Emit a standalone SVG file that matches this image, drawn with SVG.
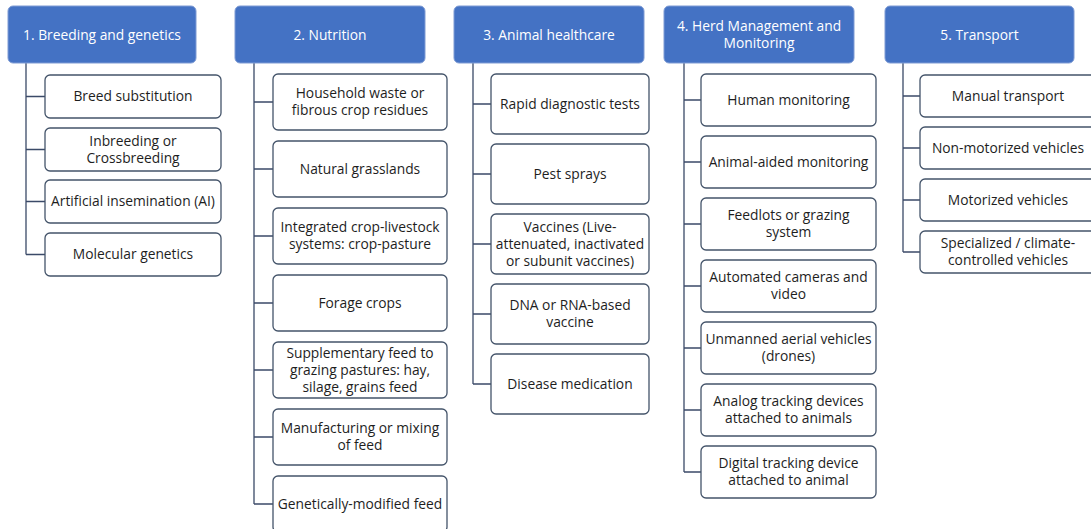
<svg xmlns="http://www.w3.org/2000/svg" width="1091" height="529" viewBox="0 0 1091 529">
  <style>
    .bg { fill: #ffffff; }
    .hdr rect { fill: #4472C4; stroke: #7E9BD4; stroke-width: 1; }
    .hdr text { fill: #ffffff; font-family: "Open Sans", "Noto Sans", sans-serif; font-size: 13.8px; text-anchor: middle; }
    .item rect { fill: #ffffff; stroke: #44546A; stroke-width: 1.3; }
    .item text { fill: #1e1e1e; font-family: "Open Sans", "Noto Sans", sans-serif; font-size: 13.8px; text-anchor: middle; }
    .links path { fill: none; stroke: #3B4A68; stroke-width: 1.3; }
  </style>
  <rect class="bg" x="0" y="0" width="1091" height="529"/>

  <!-- connectors: one trunk per category, one branch per item -->
  <g class="links" id="connectors">
    <path d="M26 63V254.5 M26 96.5H45 M26 149.5H45 M26 201.5H45 M26 254.5H45"/>
    <path d="M254 63V504 M254 102H273 M254 169H273 M254 236H273 M254 303H273 M254 370H273 M254 437H273 M254 504H273"/>
    <path d="M473 63V384 M473 104H491 M473 174H491 M473 244H491 M473 314H491 M473 384H491"/>
    <path d="M684 63V472 M684 100H701 M684 162H701 M684 224H701 M684 286H701 M684 348H701 M684 410H701 M684 472H701"/>
    <path d="M903 63V252 M903 96H920 M903 148H920 M903 200H920 M903 252H920"/>
  </g>

  <!-- 1. Breeding and genetics -->
  <g class="hdr" id="h1"><rect x="8" y="6" width="188" height="57" rx="5"/><text x="102" y="39.5">1. Breeding and genetics</text></g>
  <g class="item" id="n1a"><rect x="45" y="75" width="176" height="43" rx="5"/><text x="133" y="101">Breed substitution</text></g>
  <g class="item" id="n1b"><rect x="45" y="128" width="176" height="43" rx="5"/><text x="133" y="145.5">Inbreeding or</text><text x="133" y="162.5">Crossbreeding</text></g>
  <g class="item" id="n1c"><rect x="45" y="180" width="176" height="43" rx="5"/><text x="133" y="206">Artificial insemination (AI)</text></g>
  <g class="item" id="n1d"><rect x="45" y="233" width="176" height="43" rx="5"/><text x="133" y="259">Molecular genetics</text></g>

  <!-- 2. Nutrition -->
  <g class="hdr" id="h2"><rect x="235" y="6" width="190" height="57" rx="5"/><text x="330" y="39.5">2. Nutrition</text></g>
  <g class="item" id="n2a"><rect x="273" y="74" width="174" height="56" rx="5"/><text x="360" y="98">Household waste or</text><text x="360" y="115">fibrous crop residues</text></g>
  <g class="item" id="n2b"><rect x="273" y="141" width="174" height="56" rx="5"/><text x="360" y="173.5">Natural grasslands</text></g>
  <g class="item" id="n2c"><rect x="273" y="208" width="174" height="56" rx="5"/><text x="360" y="232">Integrated crop-livestock</text><text x="360" y="249">systems: crop-pasture</text></g>
  <g class="item" id="n2d"><rect x="273" y="275" width="174" height="56" rx="5"/><text x="360" y="307.5">Forage crops</text></g>
  <g class="item" id="n2e"><rect x="273" y="342" width="174" height="56" rx="5"/><text x="360" y="357.5">Supplementary feed to</text><text x="360" y="374.5">grazing pastures: hay,</text><text x="360" y="391.5">silage, grains feed</text></g>
  <g class="item" id="n2f"><rect x="273" y="409" width="174" height="56" rx="5"/><text x="360" y="433">Manufacturing or mixing</text><text x="360" y="450">of feed</text></g>
  <g class="item" id="n2g"><rect x="273" y="476" width="174" height="56" rx="5"/><text x="360" y="508.5">Genetically-modified feed</text></g>

  <!-- 3. Animal healthcare -->
  <g class="hdr" id="h3"><rect x="454" y="6" width="190" height="57" rx="5"/><text x="549" y="39.5">3. Animal healthcare</text></g>
  <g class="item" id="n3a"><rect x="491" y="74" width="158" height="60" rx="5"/><text x="570" y="108.5">Rapid diagnostic tests</text></g>
  <g class="item" id="n3b"><rect x="491" y="144" width="158" height="60" rx="5"/><text x="570" y="178.5">Pest sprays</text></g>
  <g class="item" id="n3c"><rect x="491" y="214" width="158" height="60" rx="5"/><text x="570" y="231.5">Vaccines (Live-</text><text x="570" y="248.5">attenuated, inactivated</text><text x="570" y="265.5">or subunit vaccines)</text></g>
  <g class="item" id="n3d"><rect x="491" y="284" width="158" height="60" rx="5"/><text x="570" y="310">DNA or RNA-based</text><text x="570" y="327">vaccine</text></g>
  <g class="item" id="n3e"><rect x="491" y="354" width="158" height="60" rx="5"/><text x="570" y="388.5">Disease medication</text></g>

  <!-- 4. Herd Management and Monitoring -->
  <g class="hdr" id="h4"><rect x="664" y="6" width="190" height="57" rx="5"/><text x="759" y="31">4. Herd Management and</text><text x="759" y="48">Monitoring</text></g>
  <g class="item" id="n4a"><rect x="701" y="74" width="175" height="52" rx="5"/><text x="788.5" y="104.5">Human monitoring</text></g>
  <g class="item" id="n4b"><rect x="701" y="136" width="175" height="52" rx="5"/><text x="788.5" y="166.5">Animal-aided monitoring</text></g>
  <g class="item" id="n4c"><rect x="701" y="198" width="175" height="52" rx="5"/><text x="788.5" y="220">Feedlots or grazing</text><text x="788.5" y="237">system</text></g>
  <g class="item" id="n4d"><rect x="701" y="260" width="175" height="52" rx="5"/><text x="788.5" y="282">Automated cameras and</text><text x="788.5" y="299">video</text></g>
  <g class="item" id="n4e"><rect x="701" y="322" width="175" height="52" rx="5"/><text x="788.5" y="344">Unmanned aerial vehicles</text><text x="788.5" y="361">(drones)</text></g>
  <g class="item" id="n4f"><rect x="701" y="384" width="175" height="52" rx="5"/><text x="788.5" y="406">Analog tracking devices</text><text x="788.5" y="423">attached to animals</text></g>
  <g class="item" id="n4g"><rect x="701" y="446" width="175" height="52" rx="5"/><text x="788.5" y="468">Digital tracking device</text><text x="788.5" y="485">attached to animal</text></g>

  <!-- 5. Transport -->
  <g class="hdr" id="h5"><rect x="885" y="6" width="189" height="57" rx="5"/><text x="979.5" y="39.5">5. Transport</text></g>
  <g class="item" id="n5a"><rect x="920" y="75" width="176" height="42" rx="5"/><text x="1008" y="100.5">Manual transport</text></g>
  <g class="item" id="n5b"><rect x="920" y="127" width="176" height="42" rx="5"/><text x="1008" y="152.5">Non-motorized vehicles</text></g>
  <g class="item" id="n5c"><rect x="920" y="179" width="176" height="42" rx="5"/><text x="1008" y="204.5">Motorized vehicles</text></g>
  <g class="item" id="n5d"><rect x="920" y="231" width="176" height="42" rx="5"/><text x="1008" y="248">Specialized / climate-</text><text x="1008" y="265">controlled vehicles</text></g>
</svg>
